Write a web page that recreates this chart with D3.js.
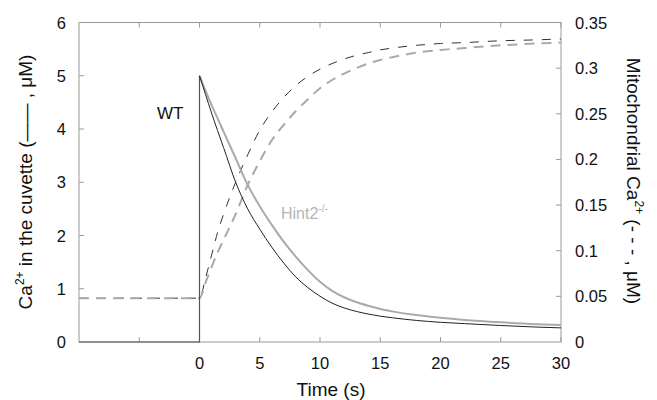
<!DOCTYPE html>
<html>
<head>
<meta charset="utf-8">
<script src="https://cdn.jsdelivr.net/npm/d3@7"></script>
<style>
  body { margin: 0; background: #fff; }
  text { font-family: "Liberation Sans", Arial, sans-serif; }
</style>
</head>
<body>
<div id="chart"></div>
<script>
// time points after the Ca2+ pulse (s)
var times = [0, 0.5, 1, 1.5, 2, 3, 4, 5, 6, 7, 8, 9, 10, 11, 12, 13, 14, 15, 16, 18, 20, 22, 25, 28, 30];
// Ca2+ in the cuvette (uM), solid lines
var wtCuvette   = [5.0, 4.65, 4.3, 3.97, 3.65, 3.0, 2.5, 2.12, 1.78, 1.48, 1.22, 1.02, 0.86, 0.73, 0.64, 0.575, 0.525, 0.485, 0.455, 0.405, 0.37, 0.345, 0.31, 0.28, 0.265];
var hintCuvette = [5.0, 4.72, 4.45, 4.2, 3.95, 3.45, 2.95, 2.55, 2.2, 1.88, 1.6, 1.35, 1.13, 0.96, 0.84, 0.75, 0.68, 0.62, 0.575, 0.505, 0.455, 0.415, 0.37, 0.335, 0.32];
// mitochondrial Ca2+ (uM), dashed lines
var wtMito   = [0.048, 0.07, 0.095, 0.12, 0.14, 0.175, 0.205, 0.232, 0.252, 0.268, 0.281, 0.291, 0.299, 0.305, 0.31, 0.314, 0.317, 0.32, 0.322, 0.325, 0.327, 0.328, 0.33, 0.331, 0.332];
var hintMito = [0.048, 0.065, 0.082, 0.098, 0.112, 0.14, 0.172, 0.198, 0.221, 0.238, 0.253, 0.266, 0.278, 0.287, 0.294, 0.3, 0.305, 0.309, 0.312, 0.317, 0.32, 0.322, 0.325, 0.327, 0.328];
var baseCuvette = 0, baseMito = 0.048;   // values before t = 0
var xTicks = [-5, 0, 5, 10, 15, 20, 25, 30];
var xLabels = [0, 5, 10, 15, 20, 25, 30];
var yLeftTicks = [0, 1, 2, 3, 4, 5, 6];
var yRightTicks = [0, 0.05, 0.1, 0.15, 0.2, 0.25, 0.3, 0.35];

var W = 657, H = 400;
var x0 = 79, x1 = 561, yTop = 22.5, yBot = 342;

var svg = d3.select("#chart").append("svg")
    .attr("width", W)
    .attr("height", H);

var x = d3.scaleLinear().domain([-10, 30]).range([x0, x1]);
var yL = d3.scaleLinear().domain([0, 6]).range([yBot, yTop]);
var yR = d3.scaleLinear().domain([0, 0.35]).range([yBot, yTop]);

var axisCol = "#9a9a9a";

// frame
svg.append("rect")
    .attr("x", x0).attr("y", yTop)
    .attr("width", x1 - x0).attr("height", yBot - yTop)
    .attr("fill", "none").attr("stroke", axisCol).attr("stroke-width", 1);

// inner ticks
var tl = 5;
xTicks.forEach(function(t) {
    svg.append("line").attr("x1", x(t)).attr("x2", x(t)).attr("y1", yBot).attr("y2", yBot - tl)
        .attr("stroke", axisCol);
    svg.append("line").attr("x1", x(t)).attr("x2", x(t)).attr("y1", yTop).attr("y2", yTop + tl)
        .attr("stroke", axisCol);
});
yLeftTicks.slice(1, -1).forEach(function(v) {
    svg.append("line").attr("x1", x0).attr("x2", x0 + tl).attr("y1", yL(v)).attr("y2", yL(v))
        .attr("stroke", axisCol);
});
yRightTicks.slice(1, -1).forEach(function(v) {
    svg.append("line").attr("x1", x1).attr("x2", x1 - tl).attr("y1", yR(v)).attr("y2", yR(v))
        .attr("stroke", axisCol);
});

// tick labels
svg.selectAll(".xl").data(xLabels).enter().append("text")
    .attr("x", function(d) { return x(d); })
    .attr("y", 369)
    .attr("text-anchor", "middle")
    .attr("font-size", 16.5)
    .attr("fill", "#111")
    .text(function(d) { return d; });
svg.selectAll(".yl").data(yLeftTicks).enter().append("text")
    .attr("x", 66)
    .attr("y", function(d) { return yL(d) + 6; })
    .attr("text-anchor", "end")
    .attr("font-size", 16.5)
    .attr("fill", "#111")
    .text(function(d) { return d; });
svg.selectAll(".yr").data(yRightTicks).enter().append("text")
    .attr("x", 575)
    .attr("y", function(d) { return yR(d) + 6; })
    .attr("font-size", 16.5)
    .attr("fill", "#111")
    .text(function(d) { return d; });

// axis titles
svg.append("text")
    .attr("x", 331).attr("y", 396)
    .attr("text-anchor", "middle")
    .attr("font-size", 19).attr("fill", "#111")
    .text("Time (s)");

var lt = svg.append("text")
    .attr("transform", "translate(32,182) rotate(-90)")
    .attr("text-anchor", "middle")
    .attr("font-size", 19).attr("fill", "#111");
lt.append("tspan").text("Ca");
lt.append("tspan").attr("font-size", 12).attr("dy", -8).text("2+");
lt.append("tspan").attr("dy", 8).text(" in the cuvette (\u2014\u2014 , \u03bcM)");

var rt = svg.append("text")
    .attr("transform", "translate(627,181) rotate(90)")
    .attr("text-anchor", "middle")
    .attr("font-size", 19).attr("fill", "#111");
rt.append("tspan").text("Mitochondrial Ca");
rt.append("tspan").attr("font-size", 12).attr("dy", -8).text("2+");
rt.append("tspan").attr("dy", 8).text(" (- - - , \u03bcM)");

// series
function pts(ts, vs) { return ts.map(function(t, i) { return [t, vs[i]]; }); }
var lineL = d3.line().x(function(d) { return x(d[0]); }).y(function(d) { return yL(d[1]); })
    .curve(d3.curveMonotoneX);
var lineR = d3.line().x(function(d) { return x(d[0]); }).y(function(d) { return yR(d[1]); })
    .curve(d3.curveMonotoneX);
var stepL = d3.line().x(function(d) { return x(d[0]); }).y(function(d) { return yL(d[1]); });

// mitochondrial dashed
svg.append("path")
    .attr("d", lineR([[-10, baseMito]].concat(pts(times, wtMito))))
    .attr("fill", "none").attr("stroke", "#333").attr("stroke-width", 1)
    .attr("stroke-dasharray", "9,9");
svg.append("path")
    .attr("d", lineR([[-10, baseMito]].concat(pts(times, hintMito))))
    .attr("fill", "none").attr("stroke", "#aaa").attr("stroke-width", 2)
    .attr("stroke-dasharray", "10,7");

// cuvette solid
svg.append("path")
    .attr("d", lineL(pts(times, hintCuvette)))
    .attr("fill", "none").attr("stroke", "#aaa").attr("stroke-width", 2);
svg.append("path")
    .attr("d", stepL([[-10, baseCuvette], [0, baseCuvette], [0, wtCuvette[0]]]))
    .attr("fill", "none").attr("stroke", "#555").attr("stroke-width", 1.2);
svg.append("path")
    .attr("d", lineL(pts(times, wtCuvette)))
    .attr("fill", "none").attr("stroke", "#222").attr("stroke-width", 1);

// labels
svg.append("text")
    .attr("x", 157).attr("y", 119)
    .attr("font-size", 17).attr("fill", "#111")
    .text("WT");
var ht = svg.append("text")
    .attr("x", 281).attr("y", 219)
    .attr("font-size", 16).attr("fill", "#b5b5b5");
ht.append("tspan").text("Hint2");
ht.append("tspan").attr("font-size", 10).attr("dy", -7).text("-/-");
</script>
</body>
</html>
